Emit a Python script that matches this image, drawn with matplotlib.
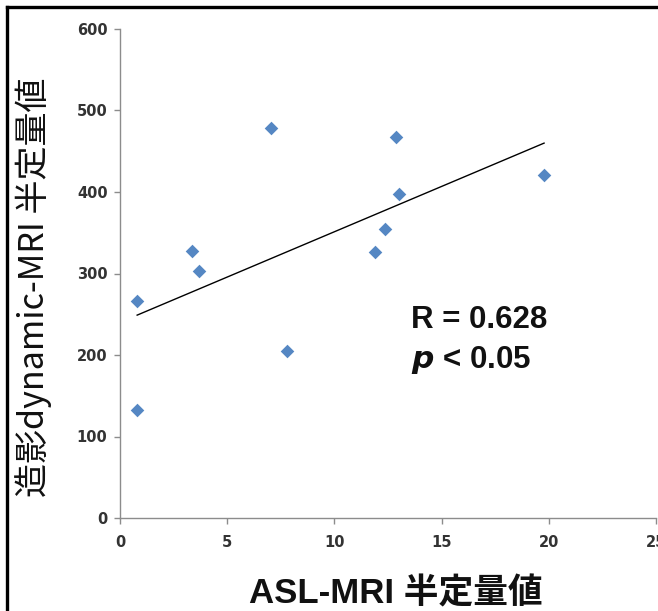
import numpy as np
import matplotlib.pyplot as plt
from matplotlib.lines import Line2D

# ---------------------------------------------------------------- data
asl = [0.8, 0.8, 3.35, 3.67, 7.02, 7.77, 11.9, 12.37, 12.87, 12.99, 19.78]
dyn = [266, 132, 327, 303, 478, 205, 326, 355, 468, 397, 421]
x_ticks = [0, 5, 10, 15, 20, 25]
y_ticks = [0, 100, 200, 300, 400, 500, 600]

JP = ["Noto Sans CJK JP", "DejaVu Sans"]
LAT = ["Liberation Sans", "Noto Sans CJK JP"]

fig = plt.figure(figsize=(6.58, 6.11), dpi=100)
ax = fig.add_axes([120 / 658, 1 - 518 / 611, 536 / 658, 489 / 611])

ax.scatter(asl, dyn, marker="D", s=48, color="#5587C3", zorder=3, linewidths=0)

# least-squares trend line over the data range
k, b = np.polyfit(asl, dyn, 1)
xs = np.array([min(asl), max(asl)])
ax.plot(xs, k * xs + b, color="black", lw=1.0, zorder=2)

ax.set_xlim(0, 25)
ax.set_ylim(0, 600)
ax.set_xticks(x_ticks)
ax.set_yticks(y_ticks)
for s in ("top", "right"):
    ax.spines[s].set_visible(False)
for s in ("left", "bottom"):
    ax.spines[s].set_color("#8c8c8c")
    ax.spines[s].set_linewidth(1.0)
ax.tick_params(colors="#8c8c8c", length=4, width=1.0, labelcolor="#333333",
               labelsize=10.5)
ax.tick_params(axis="y", pad=5)
ax.tick_params(axis="x", pad=8)
for lab in ax.get_xticklabels() + ax.get_yticklabels():
    lab.set_fontweight("bold")
    lab.set_family("DejaVu Sans")

ax.text(13.55, 243, "R = 0.628", fontsize=22.5, fontweight="bold", family=LAT,
        color="#111111", va="center")
ax.text(13.55, 194, "$\\boldsymbol{p}$ < 0.05", fontsize=22.5, fontweight="bold",
        family=LAT, color="#111111", va="center")

fig.text(34 / 658, 1 - 287 / 611, "造影dynamic-MRI 半定量値", rotation=90,
         fontsize=24.5, family=JP, ha="center", va="center", color="#111111")
fig.text(396 / 658, 1 - 594 / 611, "ASL-MRI 半定量値", fontsize=25,
         fontweight="bold", family=LAT, ha="center", va="center", color="#111111")

# frame lines on the left and top of the picture
lx, ty = 6.5 / 658, 1 - 6.5 / 611
fig.add_artist(Line2D([lx, lx], [0, ty], transform=fig.transFigure,
                      color="black", lw=2.4))
fig.add_artist(Line2D([lx, 1], [ty, ty], transform=fig.transFigure,
                      color="black", lw=2.4))

fig.savefig("out.png", dpi=100)
